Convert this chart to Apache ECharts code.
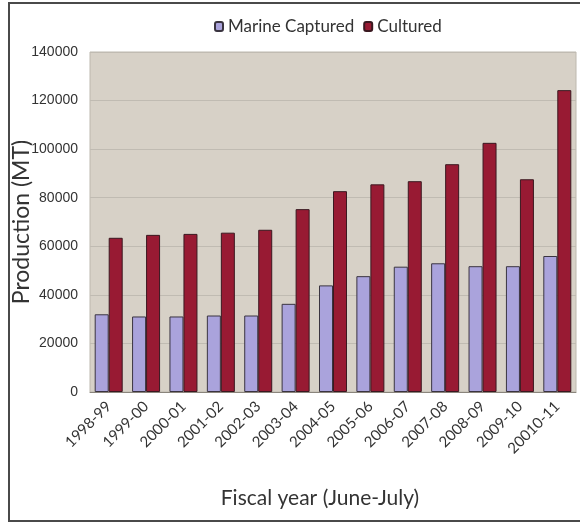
<!DOCTYPE html>
<html>
<head>
<meta charset="utf-8">
<script src="https://cdn.jsdelivr.net/npm/echarts@6/dist/echarts.min.js"></script>
<style>
  html, body { margin: 0; padding: 0; background: #ffffff; }
  #chart { width: 580px; height: 525px; }
</style>
</head>
<body>
<div id="chart"></div>
<script>
// Fish production by fiscal year (metric tonnes)
const fiscalYears = ['1998-99', '1999-00', '2000-01', '2001-02', '2002-03', '2003-04', '2004-05',
  '2005-06', '2006-07', '2007-08', '2008-09', '2009-10', '20010-11'];
const marineCaptured = [32000, 31100, 31100, 31500, 31500, 36300, 43900, 47700, 51600, 53000, 51800, 51800, 56000];
const cultured = [63500, 64700, 65100, 65600, 66800, 75300, 82700, 85500, 86800, 93800, 102600, 87600, 124300];
const yTicks = [0, 20000, 40000, 60000, 80000, 100000, 120000, 140000];

const chart = echarts.init(document.getElementById('chart'));
const labelFont = 'Lato, "Open Sans", sans-serif';

chart.setOption({
  backgroundColor: '#ffffff',
  animation: false,
  graphic: [{
    type: 'rect',
    shape: { x: 9, y: 3, width: 590, height: 518 },
    style: { fill: 'none', stroke: '#4a4a4a', lineWidth: 2 },
    z: -1
  }],
  legend: {
    top: 13,
    left: 209,
    itemWidth: 8,
    itemHeight: 9,
    itemGap: 9,
    textStyle: { fontFamily: labelFont, fontSize: 17, color: '#333333' },
    data: ['Marine Captured', 'Cultured']
  },
  grid: {
    left: 90, right: 4, top: 52, bottom: 133,
    containLabel: false,
    outerBoundsMode: 'none',
    show: true,
    backgroundColor: '#d7d1c7',
    borderColor: '#bdb8ae',
    borderWidth: 1
  },
  xAxis: {
    type: 'category',
    data: fiscalYears,
    name: 'Fiscal year (June-July)',
    nameLocation: 'middle',
    nameGap: 96,
    nameMoveOverlap: false,
    nameTextStyle: { fontFamily: labelFont, fontSize: 21, color: '#333333', padding: [0, 26, 0, 0] },
    axisLine: { lineStyle: { color: '#8a857c' } },
    axisTick: { show: false },
    axisLabel: {
      rotate: 45,
      interval: 0,
      margin: 12,
      fontFamily: labelFont,
      fontSize: 15,
      color: '#333333'
    }
  },
  yAxis: {
    type: 'value',
    min: 0,
    max: 140000,
    interval: 20000,
    name: 'Production (MT)',
    nameLocation: 'middle',
    nameGap: 57,
    nameMoveOverlap: false,
    nameTextStyle: { fontFamily: labelFont, fontSize: 23, color: '#333333' },
    axisLine: { show: false },
    axisTick: { show: false },
    axisLabel: {
      margin: 12,
      fontFamily: '"Liberation Sans Narrow", "Liberation Sans", Arial, sans-serif',
      fontSize: 14,
      color: '#333333',
      formatter: v => (yTicks.indexOf(v) >= 0 ? String(v) : '')
    },
    splitLine: { lineStyle: { color: '#c0bbb2', width: 1 } }
  },
  series: [
    {
      name: 'Marine Captured',
      type: 'bar',
      data: marineCaptured,
      barWidth: 14,
      barGap: '0%',
      itemStyle: { color: '#aaa3dc', borderColor: '#3a3440', borderWidth: 1 }
    },
    {
      name: 'Cultured',
      type: 'bar',
      data: cultured,
      barWidth: 14,
      barGap: '0%',
      itemStyle: { color: '#981a33', borderColor: '#3a1820', borderWidth: 1 }
    }
  ]
});
</script>
</body>
</html>
